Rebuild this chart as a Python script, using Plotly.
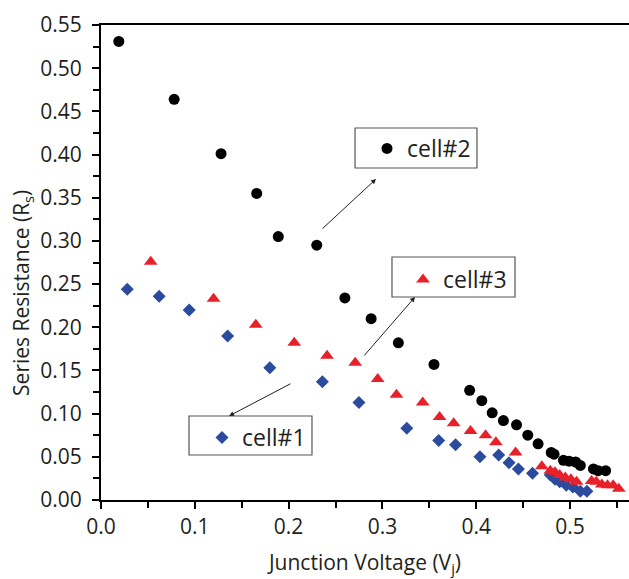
import plotly.graph_objects as go

# ---- data ----
cell1_v = [0.028, 0.062, 0.094, 0.135, 0.180, 0.236, 0.275, 0.326, 0.360, 0.378, 0.404,
           0.424, 0.435, 0.445, 0.460, 0.479, 0.484, 0.489, 0.496, 0.503, 0.511, 0.518]
cell1_r = [0.244, 0.236, 0.220, 0.190, 0.153, 0.137, 0.113, 0.083, 0.069, 0.064, 0.050,
           0.052, 0.043, 0.036, 0.031, 0.029, 0.024, 0.021, 0.017, 0.015, 0.010, 0.010]

cell2_v = [0.019, 0.078, 0.128, 0.166, 0.189, 0.230, 0.260, 0.288, 0.317, 0.355, 0.393,
           0.406, 0.417, 0.429, 0.443, 0.455, 0.466, 0.480, 0.483, 0.493, 0.499, 0.506,
           0.511, 0.525, 0.530, 0.538]
cell2_r = [0.531, 0.464, 0.401, 0.355, 0.305, 0.295, 0.234, 0.210, 0.182, 0.157, 0.127,
           0.115, 0.101, 0.092, 0.087, 0.075, 0.065, 0.055, 0.053, 0.046, 0.045, 0.044,
           0.040, 0.036, 0.034, 0.034]

cell3_v = [0.053, 0.120, 0.165, 0.206, 0.241, 0.271, 0.295, 0.315, 0.343, 0.361, 0.376,
           0.394, 0.410, 0.421, 0.442, 0.470, 0.479, 0.484, 0.489, 0.495, 0.501, 0.507,
           0.523, 0.528, 0.534, 0.540, 0.546, 0.552]
cell3_r = [0.276, 0.233, 0.203, 0.182, 0.167, 0.159, 0.140, 0.122, 0.113, 0.096, 0.089,
           0.080, 0.075, 0.067, 0.055, 0.039, 0.034, 0.032, 0.029, 0.026, 0.024, 0.021,
           0.022, 0.021, 0.018, 0.017, 0.017, 0.013]

series_names = ["cell#1", "cell#2", "cell#3"]
x_tick_vals = [0, 0.1, 0.2, 0.3, 0.4, 0.5]
x_tick_text = ["0.0", "0.1", "0.2", "0.3", "0.4", "0.5"]
y_tick_vals = [i * 0.05 for i in range(12)]
y_tick_text = ["%.2f" % v for v in y_tick_vals]

BLUE = "#2b4b9e"
BLACK = "#000000"
RED = "#e8202a"
TXT = "#231f20"
FONT = "Open Sans"

fig = go.Figure()
fig.add_trace(go.Scatter(x=cell1_v, y=cell1_r, mode="markers", name=series_names[0],
                         marker=dict(symbol="diamond", size=10, color=BLUE),
                         legend="legend", showlegend=True))
fig.add_trace(go.Scatter(x=cell2_v, y=cell2_r, mode="markers", name=series_names[1],
                         marker=dict(symbol="circle", size=11, color=BLACK),
                         legend="legend2", showlegend=True))
fig.add_trace(go.Scatter(x=cell3_v, y=cell3_r, mode="markers", name=series_names[2],
                         marker=dict(symbol="triangle-up", size=12, color=RED),
                         legend="legend3", showlegend=True))

leg_common = dict(bgcolor="rgba(0,0,0,0)", borderwidth=0,
                  font=dict(family=FONT, size=23, color=TXT),
                  xanchor="left", yanchor="top", itemclick=False, itemdoubleclick=False)

# label boxes around the three legends (paper coordinates)
boxes = [
    (0.1667, 0.0947, 0.3996, 0.1768),
    (0.4811, 0.6989, 0.7121, 0.7832),
    (0.5511, 0.4274, 0.7841, 0.5116),
]
shapes = [dict(type="rect", xref="paper", yref="paper", x0=a, y0=b, x1=c, y1=d,
               line=dict(color="#555555", width=1.2), fillcolor="white", layer="below")
          for a, b, c, d in boxes]

arrows = [
    # (tail x, tail y, head x, head y) in data units
    (0.2345, 0.3126, 0.2932, 0.3717),
    (0.2793, 0.1656, 0.3348, 0.2351),
    (0.2036, 0.1355, 0.1365, 0.0973),
]
annotations = []
for tx, ty, hx, hy in arrows:
    annotations.append(dict(x=hx, y=hy, ax=tx, ay=ty, xref="x", yref="y", axref="x", ayref="y",
                            text="", showarrow=True, arrowhead=2, arrowsize=1, arrowwidth=1,
                            arrowcolor="#222222"))
annotations.append(dict(text="Series Resistance (R<sub>s</sub>)", textangle=-90,
                        xref="paper", yref="paper", x=-0.1496, y=0.436,
                        xanchor="center", yanchor="middle", showarrow=False,
                        font=dict(family=FONT, size=21, color=TXT)))

fig.update_layout(
    width=629, height=579,
    margin=dict(l=101, r=0, t=25, b=79, autoexpand=False),
    paper_bgcolor="white", plot_bgcolor="white",
    showlegend=True,
    font=dict(family=FONT, size=21, color=TXT),
    legend=dict(x=0.1913, y=0.1768, **leg_common),
    legend2=dict(x=0.5038, y=0.7853, **leg_common),
    legend3=dict(x=0.572, y=0.5095, **leg_common),
    shapes=shapes,
    annotations=annotations,
    xaxis=dict(range=[0, 0.5629], tickmode="array", tickvals=x_tick_vals, ticktext=x_tick_text,
               automargin=False,
               showgrid=False, zeroline=False, showline=True, linecolor="black", linewidth=2,
               mirror=True, ticks="outside", ticklen=7, tickwidth=1.5, tickcolor="black",
               ticklabelstandoff=0,
               minor=dict(tickvals=[0.05, 0.15, 0.25, 0.35, 0.45, 0.55], ticks="outside",
                          ticklen=6, tickwidth=1.5, tickcolor="black"),
               title=dict(text="Junction Voltage (V<sub>j</sub>)", standoff=16,
                          font=dict(family=FONT, size=21, color=TXT))),
    yaxis=dict(range=[0, 0.55], tickmode="array", tickvals=y_tick_vals, ticktext=y_tick_text,
               automargin=False,
               showgrid=False, zeroline=False, showline=True, linecolor="black", linewidth=2,
               ticks="outside", ticklen=7, tickwidth=1.5, tickcolor="black",
               ticklabelstandoff=6,
               minor=dict(tickvals=[0.025 + i * 0.05 for i in range(11)], ticks="outside",
                          ticklen=6, tickwidth=1.5, tickcolor="black")),
)

fig.write_html("out.html", config={"displayModeBar": False},
               post_script="document.body.style.margin='0';document.body.style.padding='0';"
                           "document.documentElement.style.overflow='hidden';")
